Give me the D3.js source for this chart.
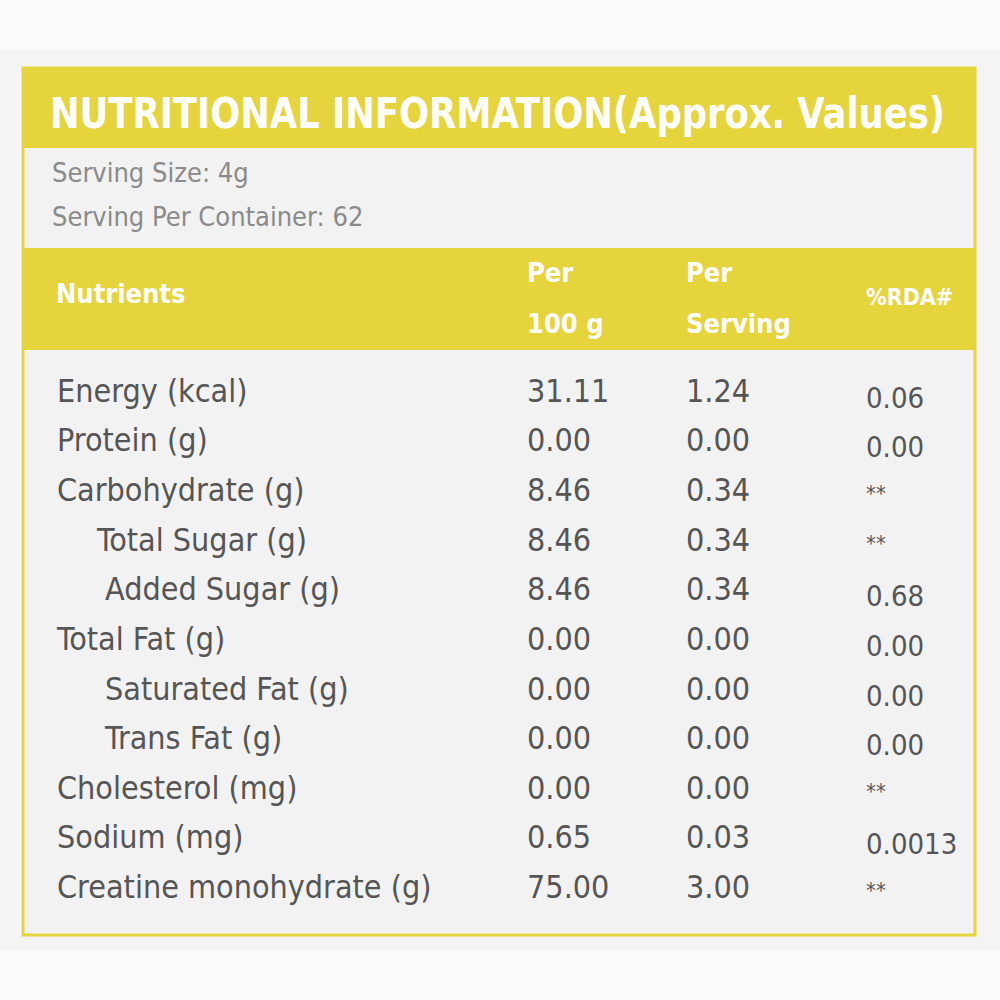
<!DOCTYPE html>
<html>
<head>
<meta charset="utf-8">
<script src="https://cdn.jsdelivr.net/npm/d3@7"></script>
<style>
  body { margin: 0; background: #f4f4f4; }
</style>
</head>
<body>
<svg id="chart" width="1000" height="1000"></svg>
<script>
const nutrients = ['Energy (kcal)', 'Protein (g)', 'Carbohydrate (g)', 'Total Sugar (g)', 'Added Sugar (g)',
  'Total Fat (g)', 'Saturated Fat (g)', 'Trans Fat (g)', 'Cholesterol (mg)', 'Sodium (mg)', 'Creatine monohydrate (g)'];
const indent = [0, 0, 0, 1, 2, 0, 2, 2, 0, 0, 0];
const per100g = ['31.11', '0.00', '8.46', '8.46', '8.46', '0.00', '0.00', '0.00', '0.00', '0.65', '75.00'];
const perServing = ['1.24', '0.00', '0.34', '0.34', '0.34', '0.00', '0.00', '0.00', '0.00', '0.03', '3.00'];
const rda = ['0.06', '0.00', '**', '**', '0.68', '0.00', '0.00', '0.00', '**', '0.0013', '**'];
const servingLines = ['Serving Size: 4g', 'Serving Per Container: 62'];

const yellow = '#e6d43c';
const font = '"DejaVu Sans Condensed", "DejaVu Sans", sans-serif';
const svg = d3.select('#chart').style('font-family', font);

svg.append('rect').attr('x', 0).attr('y', 0).attr('width', 1000).attr('height', 50).attr('fill', '#fbfbfb');
svg.append('rect').attr('x', 0).attr('y', 950).attr('width', 1000).attr('height', 50).attr('fill', '#fbfbfb');

// box
svg.append('rect').attr('x', 23).attr('y', 68).attr('width', 952).attr('height', 867)
  .attr('fill', '#f2f2f2').attr('stroke', yellow).attr('stroke-width', 3);
svg.append('rect').attr('x', 23).attr('y', 68).attr('width', 952).attr('height', 80).attr('fill', yellow);
svg.append('rect').attr('x', 23).attr('y', 248).attr('width', 952).attr('height', 102).attr('fill', yellow);

svg.append('text').attr('x', 50).attr('y', 128).attr('fill', '#fff').attr('font-weight', 'bold')
  .attr('font-size', 42).attr('textLength', 895).attr('lengthAdjust', 'spacingAndGlyphs')
  .text('NUTRITIONAL INFORMATION(Approx. Values)');

svg.selectAll('.serv').data(servingLines).join('text')
  .attr('x', 52).attr('y', (d, i) => 182 + i * 44).attr('fill', '#8a8a8a').attr('font-size', 27)
  .text(d => d);

// header
const hdr = svg.append('g').attr('fill', '#fff').attr('font-weight', 'bold').attr('font-size', 27);
hdr.append('text').attr('x', 56).attr('y', 303).text('Nutrients');
hdr.append('text').attr('x', 527).attr('y', 282).text('Per');
hdr.append('text').attr('x', 527).attr('y', 333).text('100 g');
hdr.append('text').attr('x', 686).attr('y', 282).text('Per');
hdr.append('text').attr('x', 686).attr('y', 333).text('Serving');
hdr.append('text').attr('x', 866).attr('y', 305).attr('font-size', 23).text('%RDA#');

const y = d3.scaleBand().domain(d3.range(nutrients.length)).range([366, 912]);
const row = svg.append('g').attr('fill', '#555').attr('font-size', 32).selectAll('g')
  .data(nutrients).join('g').attr('transform', (d, i) => `translate(0,${y(i) + y.bandwidth() * 0.72})`);

row.append('text').attr('x', (d, i) => [57, 97, 105][indent[i]]).text(d => d);
row.append('text').attr('x', 527).text((d, i) => per100g[i]);
row.append('text').attr('x', 686).text((d, i) => perServing[i]);
row.append('text').attr('x', 866).attr('dy', (d, i) => rda[i] === '**' ? 0 : 6)
  .attr('font-size', (d, i) => rda[i] === '**' ? 22 : 29).text((d, i) => rda[i]);
</script>
</body>
</html>
